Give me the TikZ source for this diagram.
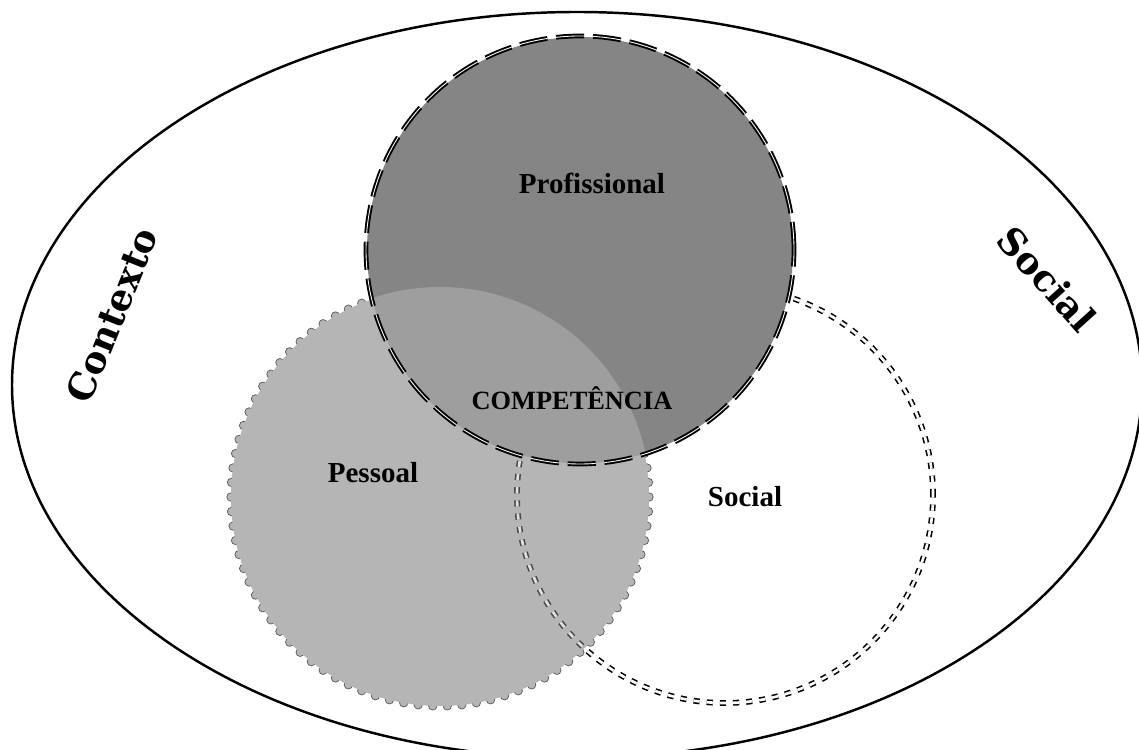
\documentclass[tikz,border=0pt]{standalone}
\usepackage{fontspec}
\setmainfont{Liberation Serif}
\newfontfamily\slabfont{DejaVu Serif}
\usepackage{tikz}

\definecolor{profgray}{gray}{0.52}
\definecolor{pessgray}{gray}{0.71}
\definecolor{compgray}{gray}{0.62}
\tikzset{
  lbl/.style={font=\fontsize{16.5}{18}\selectfont\bfseries},
  ctxlbl/.style={font=\slabfont\bfseries\fontsize{21}{23}\selectfont}
}

\begin{document}
\begin{tikzpicture}[x=0.02cm, y=0.02cm]
  \useasboundingbox (0,0) rectangle (1139,750);
  \coordinate (ctx) at (577,365);
  \coordinate (pro) at (580,500);
  \coordinate (pes) at (440,253);
  \coordinate (soc) at (725,255);
  % contexto social
  \draw[line width=1.4pt] (ctx) ellipse [x radius=565, y radius=373];
  % pessoal, with its little bumps
  \foreach \a in {0,4,...,356}
    \filldraw[fill=pessgray, draw=black!65, line width=0.4pt] (pes) ++(\a:209) circle [radius=4.2];
  \fill[pessgray] (pes) circle [radius=209];
  % social
  \draw[line width=0.9pt, double distance=1.5pt, dash pattern=on 3.5pt off 4pt] (soc) circle [radius=208];
  \fill[pessgray, opacity=0.4] (pes) circle [radius=208];
  % profissional
  \fill[profgray] (pro) circle [radius=213];
  \begin{scope}
    \clip (pro) circle [radius=213];
    \fill[compgray] (pes) circle [radius=210];
  \end{scope}
  \draw[line width=1.1pt, double=white, double distance=0.5pt, dash pattern=on 16pt off 5pt] (pro) circle [radius=214];
  %
  \node[lbl] (profissional) at (592,567) {Profissional};
  \node[lbl, font=\fontsize{15}{17}\selectfont\bfseries] (competencia) at (572,352) {COMPETÊNCIA};
  \node[lbl] (pessoal) at (373,277) {Pessoal};
  \node[lbl] (social) at (745,253) {Social};
  \node[ctxlbl, rotate=68] (contexto) at (112,435) {Contexto};
  \node[ctxlbl, rotate=-48] (socialctx) at (1047,471) {Social};
\end{tikzpicture}
\end{document}
